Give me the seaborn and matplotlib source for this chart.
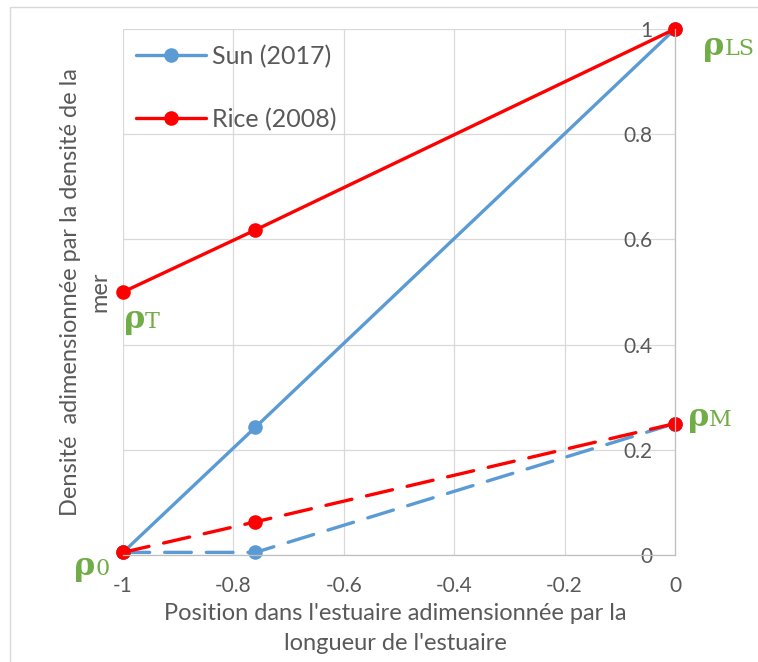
import matplotlib
matplotlib.use("Agg")
import matplotlib.pyplot as plt
from matplotlib.lines import Line2D
from matplotlib.patches import Rectangle
import numpy as np
import pandas as pd
import seaborn as sns

# Normalised estuary position (x) and normalised density (y)
positions = [-1.0, -0.76, 0.0]
sun_surface = [0.005, 0.243, 1.0]
sun_bottom = [0.005, 0.005, 0.25]
rice_surface = [0.5, 0.618, 1.0]
rice_bottom = [0.005, 0.063, 0.25]

sources = ["Sun (2017)", "Rice (2008)"]
profiles = ["surface", "fond"]

x_ticks = [-1, -0.8, -0.6, -0.4, -0.2, 0]
x_tick_labels = ["-1", "-0.8", "-0.6", "-0.4", "-0.2", "0"]
y_ticks = [0, 0.2, 0.4, 0.6, 0.8, 1]
y_tick_labels = ["0", "0.2", "0.4", "0.6", "0.8", "1"]

BLUE = "#5B9BD5"
RED = "#FF0000"
GREEN = "#70AD47"
TEXT = "#595959"
GRID = "#D9D9D9"
AXIS = "#BFBFBF"

sns.set_theme(style="white")
plt.rcParams["font.family"] = ["Lato", "DejaVu Sans"]
plt.rcParams["axes.unicode_minus"] = False

rows = []
for src, prof, vals in [
    (sources[0], profiles[0], sun_surface),
    (sources[0], profiles[1], sun_bottom),
    (sources[1], profiles[0], rice_surface),
    (sources[1], profiles[1], rice_bottom),
]:
    for xv, yv in zip(positions, vals):
        rows.append({"position": xv, "densite": yv, "source": src, "profil": prof})
df = pd.DataFrame(rows)

fig = plt.figure(figsize=(7.58, 6.62), dpi=100)
ax = fig.add_axes([123 / 758, 107 / 662, 552 / 758, 526 / 662])

palette = {sources[0]: BLUE, sources[1]: RED}
sns.lineplot(
    data=df, x="position", y="densite",
    hue="source", style="profil",
    hue_order=sources, style_order=profiles,
    palette=palette,
    dashes={"surface": "", "fond": (8, 4.5)},
    markers={"surface": "o", "fond": "o"},
    markersize=10.5, markeredgewidth=0, linewidth=2.4,
    dash_capstyle="round",
    estimator=None, sort=False, legend=False, ax=ax, clip_on=False,
)

ax.set_xlim(-1, 0)
ax.set_ylim(0, 1)
ax.set_xticks(x_ticks)
ax.set_xticklabels(x_tick_labels)
ax.set_yticks(y_ticks)
ax.set_yticklabels(y_tick_labels)

ax.set_axisbelow(True)
ax.grid(True, color=GRID, linewidth=0.9)
for side in ["top", "right"]:
    ax.spines[side].set_visible(False)
ax.spines["left"].set_position(("data", 0))
ax.spines["left"].set_color(AXIS)
ax.spines["left"].set_linewidth(0.9)
ax.spines["bottom"].set_color(AXIS)
ax.spines["bottom"].set_linewidth(0.9)
ax.tick_params(axis="both", length=0, labelsize=15, labelcolor=TEXT)
ax.tick_params(axis="x", pad=15)
ax.tick_params(axis="y", pad=16)

ax.set_xlabel("Position dans l'estuaire adimensionnée par la\nlongueur de l'estuaire",
              fontsize=17, color=TEXT, linespacing=1.5)
ax.xaxis.label.set_va("center")
ax.xaxis.set_label_coords(0.493, -0.14)
ax.set_ylabel("Densité  adimensionnée par la densité de la\nmer",
              fontsize=17, color=TEXT, linespacing=1.5)
ax.yaxis.label.set_va("center")
ax.yaxis.set_label_coords(-0.068, 0.5)

handles = [
    Line2D([], [], color=BLUE, lw=2.4, marker="o", ms=10.5, mew=0),
    Line2D([], [], color=RED, lw=2.4, marker="o", ms=10.5, mew=0),
]
ax.legend(handles, sources, loc="upper left", bbox_to_anchor=(0, 0.994),
          frameon=False, fontsize=18, labelcolor=TEXT, handlelength=2.8,
          handletextpad=0.28, labelspacing=1.6, borderaxespad=0.1)


def rho_label(xy, dx, dy, sub):
    ax.annotate("ρ", xy, xytext=(dx, dy), textcoords="offset points",
                fontsize=23, family="DejaVu Serif", fontweight="bold",
                color=GREEN, ha="left", va="baseline", annotation_clip=False)
    ax.annotate(sub, xy, xytext=(dx + 15, dy), textcoords="offset points",
                fontsize=16, family="DejaVu Serif", color=GREEN,
                ha="left", va="baseline", annotation_clip=False)


rho_label((positions[-1], rice_surface[-1]), 20.5, -19, "LS")
rho_label((positions[0], rice_surface[0]), 0.5, -26, "T")
rho_label((positions[-1], rice_bottom[-1]), 9.5, -2, "M")
rho_label((positions[0], rice_bottom[0]), -35, -16, "0")

fig.add_artist(Rectangle((10 / 758, -0.1), 1.2, (1 - 7 / 662) + 0.1,
                         transform=fig.transFigure, fill=False,
                         edgecolor=GRID, linewidth=1))

fig.savefig("out.png", dpi=100)
